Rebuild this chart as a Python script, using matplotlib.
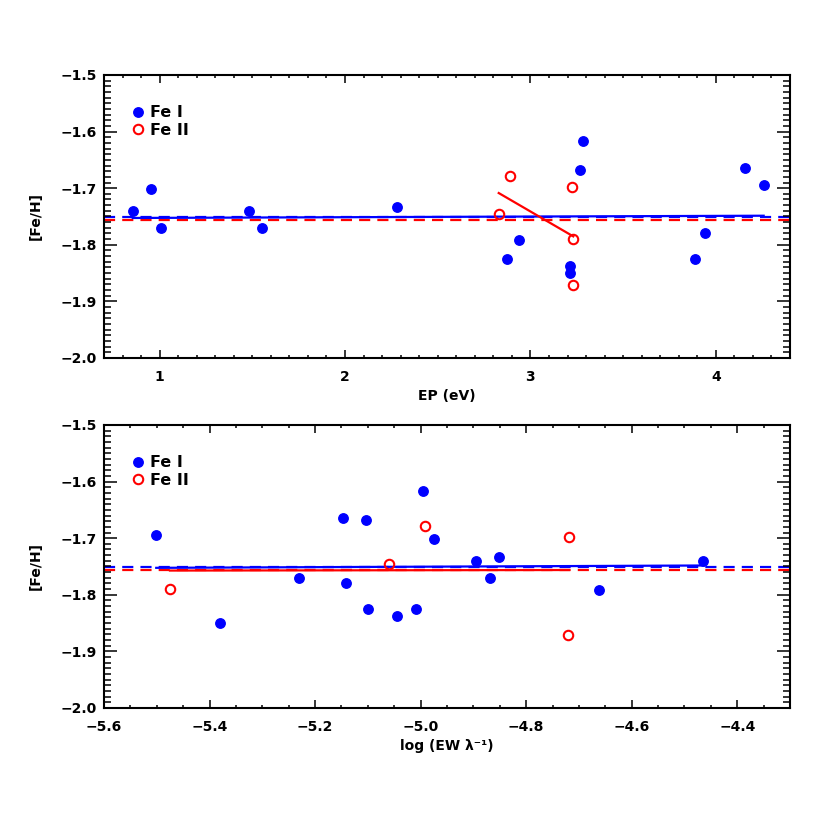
import numpy as np
import matplotlib
matplotlib.use("Agg")
import matplotlib.pyplot as plt
from matplotlib.ticker import MultipleLocator

# ---- data ----
feh_fe1 = [-1.740, -1.740, -1.702, -1.770, -1.770, -1.734, -1.616, -1.668,
           -1.791, -1.825, -1.825, -1.838, -1.849, -1.665, -1.695, -1.780]
ep_fe1 = [0.855, 1.481, 0.951, 1.009, 1.553, 2.280, 3.283, 3.267,
          2.941, 2.874, 3.886, 3.212, 3.212, 4.155, 4.258, 3.944]
rw_fe1 = [-4.895, -4.464, -4.975, -5.231, -4.869, -4.851, -4.995, -5.104,
          -4.662, -5.099, -5.008, -5.044, -5.380, -5.147, -5.501, -5.142]

feh_fe2 = [-1.678, -1.746, -1.698, -1.790, -1.871]
ep_fe2 = [2.892, 2.829, 3.224, 3.229, 3.231]
rw_fe2 = [-4.991, -5.059, -4.719, -5.475, -4.721]

ylabel = "[Fe/H]"
xlabels = ["EP (eV)", "log (EW λ⁻¹)"]
legend_labels = ["Fe I", "Fe II"]

FONT = ["DejaVu Sans"]
plt.rcParams['font.family'] = FONT
plt.rcParams['font.weight'] = 'bold'

fig = plt.figure(figsize=(8.3, 8.3), dpi=100)
ax1 = fig.add_axes([0.1253, 0.5687, 0.8265, 0.3410])
ax2 = fig.add_axes([0.1253, 0.1470, 0.8265, 0.3410])

panels = [
    (ax1, ep_fe1, ep_fe2, (0.7, 4.4), 1.0, 0.1, xlabels[0]),
    (ax2, rw_fe1, rw_fe2, (-5.6, -4.3), 0.2, 0.05, xlabels[1]),
]

blue = "#0000ff"
red = "#ff0000"
lw = 1.6

for ax, x1, x2, xlim, maj, mnr, xl in panels:
    x1 = np.array(x1); x2 = np.array(x2)
    y1 = np.array(feh_fe1); y2 = np.array(feh_fe2)
    # mean lines
    ax.axhline(y1.mean(), color=blue, lw=lw, dashes=(5, 3.2), zorder=1)
    ax.axhline(y2.mean(), color=red, lw=lw, dashes=(5, 3.2), zorder=1)
    # linear fits
    p1 = np.polyfit(x1, y1, 1)
    xx1 = np.array([x1.min(), x1.max()])
    ax.plot(xx1, np.polyval(p1, xx1), color=blue, lw=lw, zorder=2)
    p2 = np.polyfit(x2, y2, 1)
    xx2 = np.array([x2.min(), x2.max()])
    ax.plot(xx2, np.polyval(p2, xx2), color=red, lw=lw, zorder=2)
    # points
    ax.plot(x1, y1, 'o', color=blue, ms=6.8, mec=blue, ls='none',
            label=legend_labels[0], zorder=3)
    ax.plot(x2, y2, 'o', mfc='none', mec=red, mew=1.5, ms=6.8, ls='none',
            label=legend_labels[1], zorder=3)

    ax.set_xlim(*xlim)
    ax.set_ylim(-2.0, -1.5)
    ax.xaxis.set_major_locator(MultipleLocator(maj))
    ax.xaxis.set_minor_locator(MultipleLocator(mnr))
    ax.yaxis.set_major_locator(MultipleLocator(0.1))
    ax.yaxis.set_minor_locator(MultipleLocator(0.01))
    if maj == 1.0:
        ax.xaxis.set_major_formatter(plt.FuncFormatter(lambda v, p: "%d" % round(v)))
    else:
        ax.xaxis.set_major_formatter(plt.FuncFormatter(lambda v, p: ("%.1f" % v).replace("-", "\u2212")))
    ax.yaxis.set_major_formatter(plt.FuncFormatter(lambda v, p: ("%.1f" % v).replace("-", "\u2212")))

    ax.tick_params(axis='x', which='major', direction='in', length=5.5, width=1.1,
                   top=True, bottom=True, pad=9, labelsize=10)
    ax.tick_params(axis='x', which='minor', direction='in', length=2.2, width=1.1,
                   top=True, bottom=True)
    ax.tick_params(axis='y', which='major', direction='in', length=9.5, width=1.1,
                   left=True, right=True, pad=5, labelsize=10)
    ax.tick_params(axis='y', which='minor', direction='in', length=4.8, width=1.1,
                   left=True, right=True)
    for s in ax.spines.values():
        s.set_linewidth(1.5)
    for lab in ax.get_xticklabels() + ax.get_yticklabels():
        lab.set_fontweight('bold')

    ax.set_xlabel(xl, fontsize=10, fontweight='bold', labelpad=3)
    ax.set_ylabel(ylabel, fontsize=10, fontweight='bold', labelpad=13)

    leg = ax.legend(loc='upper left', bbox_to_anchor=(0.033, 0.915), frameon=False,
                    handlelength=0.6, handletextpad=0.45, labelspacing=0.15,
                    borderaxespad=0, prop={'size': 11.5, 'weight': 'bold'})

fig.savefig("out.png", dpi=100)
